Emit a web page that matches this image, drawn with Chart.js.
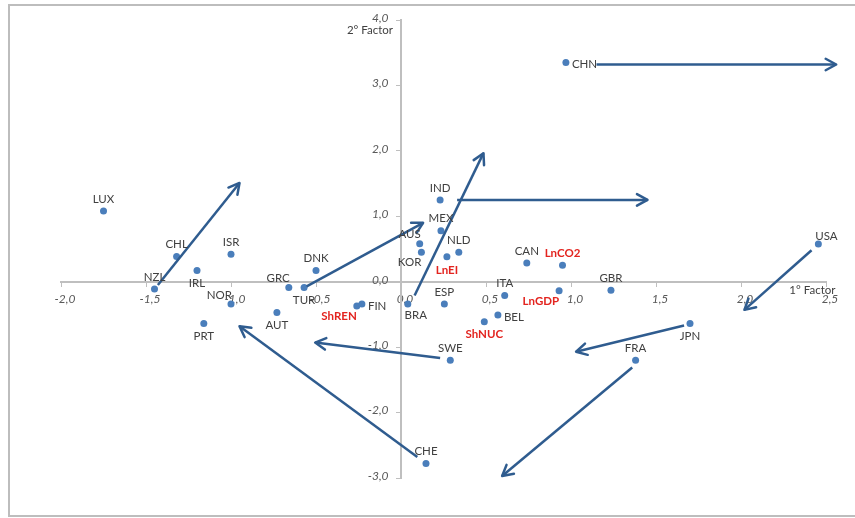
<!DOCTYPE html>
<html>
<head>
<meta charset="utf-8">
<script src="https://cdn.jsdelivr.net/npm/chart.js@4"></script>
<style>
  body { margin: 0; background: #fff; }
</style>
</head>
<body>
<canvas id="biplot" width="855" height="518"></canvas>
<script>
// countries: scores on 1st and 2nd factor
const countries = ["LUX", "CHL", "NZL", "IRL", "ISR", "NOR", "PRT", "AUT", "GRC", "TUR", "DNK",
  "AUS", "KOR", "MEX", "IND", "NLD", "CAN", "ITA", "ESP", "BEL", "FIN", "BRA", "SWE", "CHE",
  "USA", "GBR", "JPN", "FRA", "CHN"];
const factor1 = [-1.75, -1.32, -1.45, -1.20, -1.00, -1.00, -1.16, -0.73, -0.66, -0.57, -0.50,
  0.11, 0.12, 0.235, 0.23, 0.34, 0.74, 0.61, 0.255, 0.57, -0.23, 0.04, 0.29, 0.147,
  2.455, 1.235, 1.70, 1.38, 0.97];
const factor2 = [1.08, 0.385, -0.11, 0.17, 0.42, -0.34, -0.64, -0.47, -0.09, -0.09, 0.17,
  0.58, 0.45, 0.78, 1.25, 0.45, 0.285, -0.21, -0.34, -0.51, -0.34, -0.34, -1.20, -2.78,
  0.575, -0.13, -0.64, -1.20, 3.35];
const countryLabelSide = ["above", "above", "above", "below", "above", "ul", "below", "below", "ul", "below", "above",
  "ul", "ll", "above", "above", "above", "above", "above", "above", "right", "right", "lr", "above", "above",
  "ur", "above", "below", "above", "right"];

// variables
const variables = ["LnEI", "LnCO2", "LnGDP", "ShNUC", "ShREN"];
const varFactor1 = [0.27, 0.95, 0.93, 0.49, -0.26];
const varFactor2 = [0.38, 0.25, -0.14, -0.61, -0.37];
const varLabelSide = ["below", "above", "ll", "below", "ll"];

// arrows (start -> end)
const arrowX0 = [-1.43, -0.555, 0.08, 0.33, 1.15, 2.415, 1.665, 1.36, 0.23, 0.096];
const arrowY0 = [-0.05, -0.07, -0.21, 1.25, 3.32, 0.48, -0.67, -1.31, -1.165, -2.68];
const arrowX1 = [-0.95, 0.13, 0.485, 1.45, 2.56, 2.02, 1.03, 0.595, -0.505, -0.95];
const arrowY1 = [1.51, 0.90, 1.965, 1.25, 3.32, -0.43, -1.07, -2.97, -0.93, -0.68];

const arrowColor = "#2f5c8f";
const dotColor = "#4a7ebb";

const arrowSets = arrowX0.map((x0, i) => ({
  type: "line",
  data: [{ x: x0, y: arrowY0[i] }, { x: arrowX1[i], y: arrowY1[i] }],
  borderColor: arrowColor,
  borderWidth: 2.5,
  pointRadius: 0,
  fill: false,
  clip: false
}));

function offsetFor(side) {
  switch (side) {
    case "above": return { dx: 0, dy: -12, align: "center" };
    case "below": return { dx: 0, dy: 13, align: "center" };
    case "right": return { dx: 6, dy: 2, align: "left" };
    case "ul": return { dx: 1, dy: -9, align: "right" };
    case "ll": return { dx: 0, dy: 10, align: "right" };
    case "lr": return { dx: 8, dy: 11, align: "center" };
    case "ur": return { dx: 8, dy: -8, align: "center" };
  }
  return { dx: 0, dy: -12, align: "center" };
}

const decor = {
  id: "decor",
  beforeDraw(chart) {
    const ctx = chart.ctx;
    ctx.save();
    ctx.fillStyle = "#fff";
    ctx.fillRect(0, 0, chart.width, chart.height);
    ctx.strokeStyle = "#bdbdbd";
    ctx.lineWidth = 2;
    ctx.strokeRect(9, 5, chart.width + 20, 511);
    ctx.restore();
  },
  afterDatasetsDraw(chart) {
    const ctx = chart.ctx;
    const xs = chart.scales.x, ys = chart.scales.y;
    ctx.save();
    // arrow heads
    ctx.strokeStyle = arrowColor;
    ctx.lineWidth = 2.5;
    ctx.lineCap = "round";
    ctx.lineJoin = "round";
    arrowX0.forEach((x0, i) => {
      const px0 = xs.getPixelForValue(x0), py0 = ys.getPixelForValue(arrowY0[i]);
      const px1 = xs.getPixelForValue(arrowX1[i]), py1 = ys.getPixelForValue(arrowY1[i]);
      const a = Math.atan2(py1 - py0, px1 - px0);
      const len = 12, spread = 0.5;
      ctx.beginPath();
      ctx.moveTo(px1 - len * Math.cos(a - spread), py1 - len * Math.sin(a - spread));
      ctx.lineTo(px1, py1);
      ctx.lineTo(px1 - len * Math.cos(a + spread), py1 - len * Math.sin(a + spread));
      ctx.stroke();
    });
    // point labels
    ctx.textBaseline = "middle";
    ctx.font = "11.5px Lato, 'Open Sans', sans-serif";
    ctx.fillStyle = "#404040";
    countries.forEach((c, i) => {
      const o = offsetFor(countryLabelSide[i]);
      ctx.textAlign = o.align;
      ctx.fillText(c, xs.getPixelForValue(factor1[i]) + o.dx, ys.getPixelForValue(factor2[i]) + o.dy);
    });
    ctx.font = "bold 11.5px Lato, 'Open Sans', sans-serif";
    ctx.fillStyle = "#e3241f";
    variables.forEach((v, i) => {
      const o = offsetFor(varLabelSide[i]);
      ctx.textAlign = o.align;
      ctx.fillText(v, xs.getPixelForValue(varFactor1[i]) + o.dx, ys.getPixelForValue(varFactor2[i]) + o.dy);
    });
    // axis titles
    ctx.font = "11.5px Lato, 'Open Sans', sans-serif";
    ctx.fillStyle = "#404040";
    ctx.textAlign = "right";
    ctx.fillText("2° Factor", xs.getPixelForValue(0) - 8, ys.getPixelForValue(3.84));
    ctx.textAlign = "center";
    ctx.fillText("1° Factor", xs.getPixelForValue(2.42), ys.getPixelForValue(-0.13));
    ctx.restore();
  }
};

const tickFmt = v => v.toFixed(1).replace(".", ",");
// centred y axis ignores tick padding, so pad the label text itself
const yTickFmt = v => tickFmt(v) + "\u2002\u2002\u2009";
const tickFont = { family: "Lato, 'Open Sans', sans-serif", size: 12, style: "italic" };

new Chart(document.getElementById("biplot"), {
  type: "scatter",
  data: {
    datasets: [
      ...arrowSets,
      {
        label: "Countries",
        data: factor1.map((x, i) => ({ x: x, y: factor2[i] })),
        backgroundColor: dotColor,
        borderWidth: 0,
        pointRadius: 3.5
      },
      {
        label: "Variables",
        data: varFactor1.map((x, i) => ({ x: x, y: varFactor2[i] })),
        backgroundColor: dotColor,
        borderWidth: 0,
        pointRadius: 3.5
      }
    ]
  },
  options: {
    responsive: false,
    animation: false,
    layout: { padding: { left: 61, right: 29, top: 20, bottom: 40 } },
    plugins: { legend: { display: false }, tooltip: { enabled: false } },
    scales: {
      x: {
        type: "linear",
        position: { y: 0 },
        min: -2, max: 2.5,
        grid: { drawOnChartArea: false, drawTicks: true, tickLength: 4, color: "#bfbfbf" },
        border: { display: true, color: "#bfbfbf", width: 2 },
        ticks: {
          stepSize: 0.5,
          callback: tickFmt,
          color: "#595959",
          font: tickFont,
          maxRotation: 0,
          padding: 6,
          labelOffset: 4
        }
      },
      y: {
        type: "linear",
        position: { x: 0 },
        min: -3, max: 4,
        grid: { drawOnChartArea: false, drawTicks: true, tickLength: 4, color: "#bfbfbf" },
        border: { display: true, color: "#bfbfbf", width: 2 },
        ticks: {
          stepSize: 1,
          callback: yTickFmt,
          color: "#595959",
          font: tickFont,
          labelOffset: -2
        }
      }
    }
  },
  plugins: [decor]
});
</script>
</body>
</html>
